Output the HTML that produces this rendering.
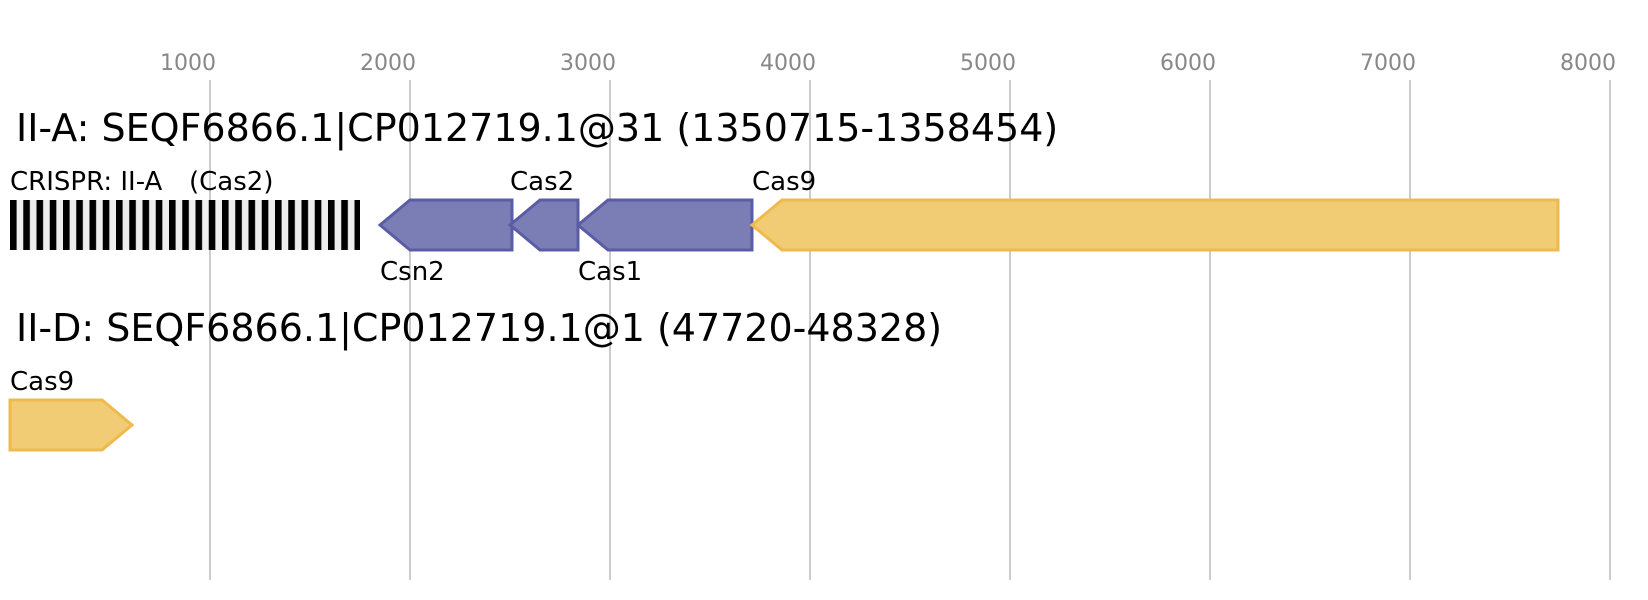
<!DOCTYPE html>
<html><head><meta charset="utf-8"><style>body{margin:0;background:#fff}svg{display:block}</style></head><body>
<svg width="1648" height="600" xmlns="http://www.w3.org/2000/svg" font-family="DejaVu Sans, Liberation Sans, sans-serif">
<defs><pattern id="cr" x="10" y="0" width="13.25" height="60" patternUnits="userSpaceOnUse"><rect width="13.25" height="60" fill="#eeeeee"/><rect width="6.6" height="60" fill="#000"/></pattern></defs>
<g stroke="#bbb" stroke-width="1.5">
<line x1="210" y1="80" x2="210" y2="580"/><line x1="410" y1="80" x2="410" y2="580"/><line x1="610" y1="80" x2="610" y2="580"/><line x1="810" y1="80" x2="810" y2="580"/><line x1="1010" y1="80" x2="1010" y2="580"/><line x1="1210" y1="80" x2="1210" y2="580"/><line x1="1410" y1="80" x2="1410" y2="580"/><line x1="1610" y1="80" x2="1610" y2="580"/>
</g>
<g fill="#888" font-size="22" text-anchor="middle">
<text x="188" y="70">1000</text><text x="388" y="70">2000</text><text x="588" y="70">3000</text><text x="788" y="70">4000</text><text x="988" y="70">5000</text><text x="1188" y="70">6000</text><text x="1388" y="70">7000</text><text x="1588" y="70">8000</text>
</g>
<text x="16" y="141" font-size="38">II-A: SEQF6866.1|CP012719.1@31 (1350715-1358454)</text>
<text x="10" y="190" font-size="26">CRISPR: II-A</text>
<text x="189" y="190" font-size="26">(Cas2)</text>
<rect x="10" y="200" width="350" height="50" fill="url(#cr)"/>
<g fill="#7b7db5" stroke="#5a5ca6" stroke-width="3">
<polygon points="380,225 410,200 512,200 512,250 410,250"/>
<polygon points="510,225 540,200 578,200 578,250 540,250"/>
<polygon points="578,225 608,200 752,200 752,250 608,250"/>
</g>
<polygon points="752,225 782,200 1558,200 1558,250 782,250" fill="#f2cc74" stroke="#eeb94d" stroke-width="3"/>
<g font-size="26">
<text x="510" y="190">Cas2</text><text x="752" y="190">Cas9</text>
<text x="380" y="280">Csn2</text><text x="578" y="280">Cas1</text>
</g>
<text x="16" y="341" font-size="38">II-D: SEQF6866.1|CP012719.1@1 (47720-48328)</text>
<text x="10" y="390" font-size="26">Cas9</text>
<polygon points="10,400 102,400 132,425 102,450 10,450" fill="#f2cc74" stroke="#eeb94d" stroke-width="3"/>
</svg>
</body></html>
